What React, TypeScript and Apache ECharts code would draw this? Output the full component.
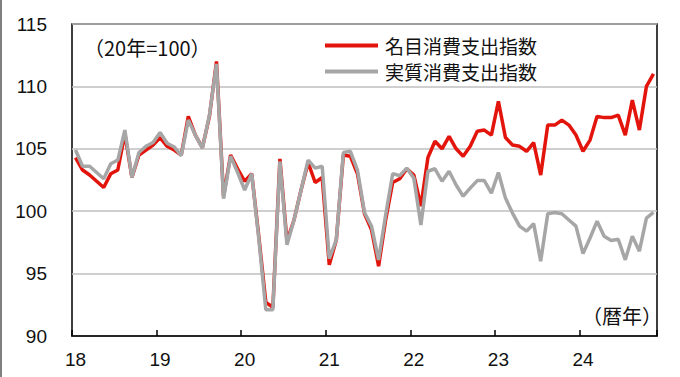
import React, { useEffect, useRef } from "react";
import * as echarts from "echarts";

const yearLabels = ["18", "19", "20", "21", "22", "23", "24"];
const monthCount = 83; // Jan 2018 – Nov 2024

const nominalName = "名目消費支出指数";
const realName = "実質消費支出指数";

const nominal = [
  104.3, 103.3, 102.9, 102.4, 101.9, 103.0, 103.3, 106.2, 102.7, 104.5, 104.9, 105.3,
  105.9, 105.2, 104.9, 104.5, 107.6, 106.1, 105.1, 107.6, 112.0, 101.2, 104.5, 103.4,
  102.4, 103.0, 98.0, 92.7, 92.3, 104.2, 97.6, 99.3, 101.7, 103.9, 102.3, 102.7,
  95.7, 97.7, 104.5, 104.4, 103.0, 99.8, 98.5, 95.6, 99.3, 102.3, 102.6, 103.4,
  102.9, 100.4, 104.3, 105.6, 105.0, 106.0, 105.0, 104.4, 105.2, 106.4, 106.5, 106.1,
  108.8, 105.9, 105.3, 105.2, 104.8, 105.5, 102.9, 106.9, 106.9, 107.3, 106.9, 106.1,
  104.8, 105.7, 107.6, 107.5, 107.5, 107.7, 106.1, 108.9, 106.5, 110.0, 111.0,
];

const real = [
  104.9, 103.6, 103.6, 103.1, 102.6, 103.8, 104.1, 106.5, 102.7, 104.7, 105.2, 105.5,
  106.3, 105.45, 105.15, 104.45, 107.3, 106.1, 105.05, 107.7, 111.8, 101.0, 104.4, 103.1,
  101.7, 103.0, 97.8, 92.1, 92.1, 104.0, 97.3, 99.3, 101.7, 104.1, 103.45, 103.6,
  96.2, 97.7, 104.7, 104.8, 103.3, 99.9, 98.8, 96.1, 99.7, 103.0, 102.85, 103.45,
  102.65, 98.9, 103.2, 103.4, 102.4, 103.2, 102.1, 101.2, 101.85, 102.45, 102.45, 101.45,
  103.1, 101.05, 99.85, 98.8, 98.4, 99.0, 96.0, 99.8, 99.9, 99.8, 99.3, 98.8,
  96.6, 97.85, 99.2, 98.0, 97.65, 97.75, 96.1, 98.0, 96.8, 99.45, 99.9,
];

const months: string[] = [];
for (let i = 0; i < monthCount; i++) {
  months.push(yearLabels[Math.floor(i / 12)] + "/" + ((i % 12) + 1));
}

const baseNote = "（20年=100）";
const unitNote = "（暦年）";

const NUM_FONT = "'Liberation Sans', Arial, sans-serif";
const JP_FONT = "'Noto Sans CJK JP', sans-serif";

export default function App() {
  const ref = useRef<HTMLDivElement>(null);
  useEffect(() => {
    if (!ref.current) return;
    const chart = echarts.init(ref.current, undefined, { renderer: "svg" });
    chart.setOption({
      animation: false,
      backgroundColor: "#ffffff",
      grid: {
        left: 72,
        right: 23,
        top: 24,
        bottom: 41,
        show: true,
        borderColor: "#000",
        borderWidth: 1.5,
        backgroundColor: "transparent",
      },
      legend: {
        orient: "vertical",
        left: 320,
        top: 31,
        icon: "rect",
        itemWidth: 53,
        itemHeight: 4,
        itemGap: 7,
        textStyle: {
          fontSize: 19,
          lineHeight: 19,
          fontFamily: JP_FONT,
          color: "#111",
          padding: [0, 0, 0, 2],
        },
        data: [nominalName, realName],
      },
      xAxis: {
        type: "category",
        data: months,
        boundaryGap: true,
        axisLine: { show: true, lineStyle: { color: "#000", width: 1.5 } },
        axisTick: {
          show: true,
          inside: true,
          interval: 11,
          length: 6,
          lineStyle: { color: "#000", width: 1.5 },
        },
        axisLabel: {
          interval: 11,
          margin: 14,
          fontSize: 19,
          fontFamily: NUM_FONT,
          color: "#111",
          formatter: (v: string) => v.split("/")[0],
        },
        splitLine: { show: false },
      },
      yAxis: {
        type: "value",
        min: 90,
        max: 115,
        interval: 5,
        axisLine: { show: false },
        axisTick: { show: false },
        axisLabel: {
          margin: 25,
          fontSize: 19,
          fontFamily: NUM_FONT,
          color: "#111",
        },
        splitLine: { show: true, lineStyle: { color: "#bfbfbf", width: 1.5 } },
      },
      series: [
        {
          name: nominalName,
          type: "line",
          data: nominal,
          symbol: "none",
          lineStyle: { color: "#e3140c", width: 3.5 },
          itemStyle: { color: "#e3140c" },
        },
        {
          name: realName,
          type: "line",
          data: real,
          symbol: "none",
          lineStyle: { color: "#a6a6a6", width: 3.5 },
          itemStyle: { color: "#a6a6a6" },
        },
      ],
      graphic: [
        {
          type: "rect",
          shape: { x: 0, y: 0, width: 2, height: 377 },
          style: { fill: "#7f7f7f" },
          silent: true,
        },
        {
          type: "text",
          x: 84,
          y: 47,
          style: {
            text: baseNote,
            font: "20px " + JP_FONT,
            fill: "#111",
            verticalAlign: "middle",
          },
        },
        {
          type: "text",
          x: 582,
          y: 315,
          style: {
            text: unitNote,
            font: "20px " + JP_FONT,
            fill: "#111",
            verticalAlign: "middle",
          },
        },
      ],
    });
    return () => chart.dispose();
  }, []);
  return (
    <div
      ref={ref}
      style={{ position: "fixed", left: 0, top: 0, width: 680, height: 377 }}
    />
  );
}
